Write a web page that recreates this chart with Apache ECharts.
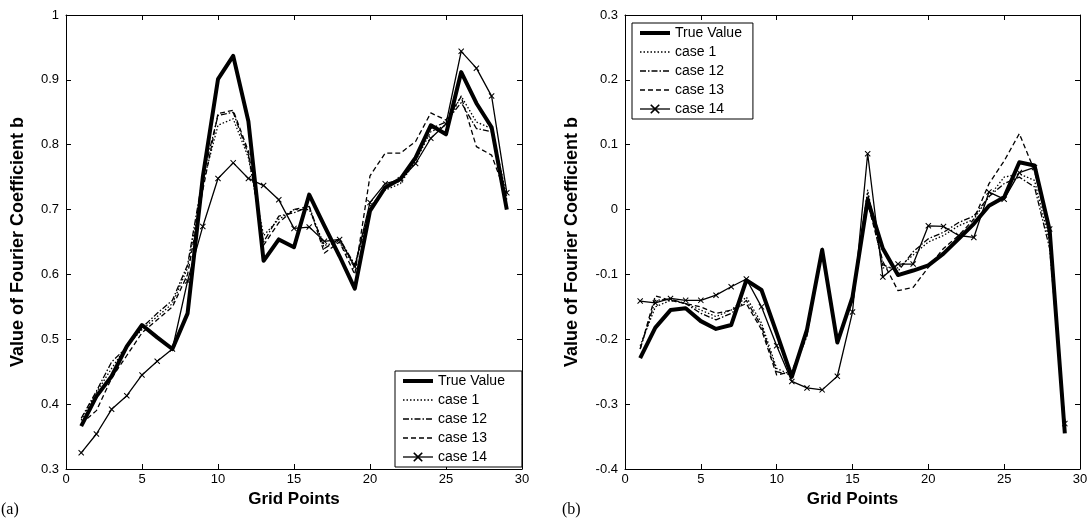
<!DOCTYPE html>
<html>
<head>
<meta charset="utf-8">
<script src="https://cdn.jsdelivr.net/npm/echarts@6/dist/echarts.min.js"></script>
<style>html,body{margin:0;padding:0;background:#fff;}#c{width:1092px;height:518px;}</style>
</head>
<body>
<div id="c"></div>
<script>
// ---- data ----
var gridPoints = [1,2,3,4,5,6,7,8,9,10,11,12,13,14,15,16,17,18,19,20,21,22,23,24,25,26,27,28,29];
var seriesNames = ['True Value','case 1','case 12','case 13','case 14'];

// (a)
var trueA   = [0.366,0.412,0.443,0.489,0.522,0.503,0.485,0.540,0.750,0.901,0.937,0.836,0.621,0.654,0.642,0.723,0.675,0.628,0.578,0.698,0.734,0.747,0.780,0.830,0.816,0.912,0.864,0.827,0.700];
var case1A  = [0.375,0.418,0.455,0.490,0.515,0.535,0.555,0.610,0.740,0.830,0.840,0.780,0.660,0.685,0.700,0.700,0.645,0.650,0.610,0.705,0.730,0.740,0.775,0.820,0.830,0.875,0.835,0.825,0.720];
var case12A = [0.378,0.420,0.465,0.488,0.518,0.540,0.560,0.615,0.750,0.845,0.850,0.785,0.650,0.690,0.695,0.705,0.640,0.655,0.615,0.700,0.735,0.745,0.780,0.825,0.835,0.865,0.825,0.820,0.715];
var case13A = [0.370,0.390,0.440,0.475,0.510,0.530,0.550,0.600,0.730,0.848,0.853,0.790,0.645,0.680,0.700,0.705,0.633,0.650,0.600,0.752,0.787,0.787,0.805,0.849,0.838,0.874,0.797,0.784,0.720];
var case14A = [0.325,0.354,0.392,0.413,0.445,0.466,0.485,0.590,0.674,0.748,0.772,0.748,0.737,0.715,0.671,0.673,0.651,0.654,0.612,0.711,0.740,0.746,0.771,0.810,0.832,0.944,0.918,0.875,0.726];

// (b)
var trueB   = [-0.229,-0.182,-0.155,-0.152,-0.172,-0.184,-0.178,-0.109,-0.124,-0.190,-0.258,-0.185,-0.062,-0.205,-0.135,0.015,-0.060,-0.101,-0.094,-0.086,-0.068,-0.045,-0.022,0.006,0.019,0.073,0.068,-0.032,-0.345];
var case1B  = [-0.210,-0.150,-0.140,-0.145,-0.155,-0.165,-0.155,-0.135,-0.175,-0.245,-0.255,-0.190,-0.065,-0.200,-0.140,0.030,-0.090,-0.090,-0.070,-0.050,-0.040,-0.025,-0.015,0.020,0.050,0.055,0.045,-0.050,-0.330];
var case12B = [-0.215,-0.140,-0.138,-0.145,-0.160,-0.170,-0.160,-0.140,-0.180,-0.250,-0.255,-0.195,-0.060,-0.200,-0.140,0.025,-0.085,-0.095,-0.065,-0.045,-0.035,-0.020,-0.010,0.020,0.040,0.050,0.035,-0.060,-0.330];
var case13B = [-0.215,-0.133,-0.140,-0.145,-0.150,-0.160,-0.155,-0.145,-0.185,-0.255,-0.250,-0.190,-0.060,-0.200,-0.140,0.010,-0.080,-0.125,-0.120,-0.089,-0.060,-0.040,-0.015,0.040,0.075,0.117,0.060,-0.040,-0.330];
var case14B = [-0.141,-0.144,-0.137,-0.140,-0.140,-0.132,-0.119,-0.107,-0.150,-0.210,-0.265,-0.275,-0.278,-0.257,-0.158,0.086,-0.104,-0.084,-0.084,-0.025,-0.026,-0.040,-0.043,0.027,0.016,0.057,0.065,-0.030,-0.330];

var xTicks = {min: 0, max: 30, interval: 5};
var yTicksA = {min: 0.3, max: 1, interval: 0.1};
var yTicksB = {min: -0.4, max: 0.3, interval: 0.1};

// ---- chart ----
var FONT = '"Liberation Sans", Arial, sans-serif';
function pairs(ys){ return gridPoints.map(function(x,i){ return [x, ys[i]]; }); }
var xMark = 'path://M0,1.2L1.2,0L5,3.8L8.8,0L10,1.2L6.2,5L10,8.8L8.8,10L5,6.2L1.2,10L0,8.8L3.8,5Z';
var styles = [
  {width:4,   type:'solid',        symbol:'none'},
  {width:1.3, type:[1.5,2],        symbol:'none'},
  {width:1.3, type:[6,2,1.5,2],    symbol:'none'},
  {width:1.3, type:[5,3],          symbol:'none'},
  {width:1.3, type:'solid',        symbol:xMark}
];
function mkSeries(arrs, xi, yi){
  return arrs.map(function(a, k){
    var s = styles[k];
    return {
      type:'line', name: seriesNames[k], xAxisIndex: xi, yAxisIndex: yi,
      data: pairs(a), symbol: s.symbol, symbolSize: 6, showAllSymbol: true,
      lineStyle: {color:'#000', width: s.width, type: s.type, join:'round'},
      itemStyle: {color:'#000'}, z: 10 - k, animation:false
    };
  });
}
function xAx(gi, pos, show){
  return {type:'value', gridIndex: gi, position: pos, min: xTicks.min, max: xTicks.max, interval: xTicks.interval,
    axisLine:{show:true, onZero:false, lineStyle:{color:'#000', width:1}},
    axisTick:{show:true, inside:true, length:5, lineStyle:{color:'#000'}},
    axisLabel:{show: show, color:'#000', fontFamily: FONT, fontSize:13, margin:4},
    splitLine:{show:false},
    name: show ? 'Grid Points' : '', nameLocation:'middle', nameGap: 21,
    nameTextStyle:{color:'#000', fontFamily: FONT, fontSize:17, fontWeight:'bold'}};
}
function yAx(gi, pos, show, t, gap){
  return {type:'value', gridIndex: gi, position: pos, min: t.min, max: t.max, interval: t.interval,
    axisLine:{show:true, onZero:false, lineStyle:{color:'#000', width:1}},
    axisTick:{show:true, inside:true, length:5, lineStyle:{color:'#000'}},
    axisLabel:{show: show, color:'#000', fontFamily: FONT, fontSize:13, margin:7,
      formatter: function(v){ return String(Math.round(v*10)/10); }},
    splitLine:{show:false},
    name: show ? 'Value of Fourier Coefficient b' : '', nameLocation:'middle', nameGap: gap || 38,
    nameTextStyle:{color:'#000', fontFamily: FONT, fontSize:18, fontWeight:'bold'}};
}
function legendData(){
  return seriesNames.map(function(n, k){
    var s = styles[k];
    var item = {name:n, lineStyle:{width: s.width, type: s.type, color:'#000'}};
    if (k < 4) item.itemStyle = {opacity:0};
    return item;
  });
}
function legend(left, top, padRight){
  return {show:true, orient:'vertical', left: left, top: top, data: legendData(),
    itemWidth: 30, itemHeight: 12, itemGap: 5,
    padding:[3,padRight,3,6], borderColor:'#000', borderWidth:1, backgroundColor:'#fff',
    textStyle:{color:'#000', fontFamily: FONT, fontSize:14}, selectedMode:false};
}

var chart = echarts.init(document.getElementById('c'), null, {renderer:'canvas'});
chart.setOption({
  animation:false,
  backgroundColor:'#fff',
  grid:[
    {left:66, top:15, width:456, height:454, show:false},
    {left:625, top:15, width:455, height:454, show:false}
  ],
  xAxis:[xAx(0,'bottom',true), xAx(0,'top',false), xAx(1,'bottom',true), xAx(1,'top',false)],
  yAxis:[yAx(0,'left',true,yTicksA,39), yAx(0,'right',false,yTicksA), yAx(1,'left',true,yTicksB,44), yAx(1,'right',false,yTicksB)],
  legend:[legend(395, 371, 17), legend(632, 23, 11)],
  series: mkSeries([trueA, case1A, case12A, case13A, case14A], 0, 0)
    .concat(mkSeries([trueB, case1B, case12B, case13B, case14B], 2, 2)),
  graphic:[
    {type:'text', left:1, top:502, style:{text:'(a)', font:'16px "Liberation Serif", serif', fill:'#000'}},
    {type:'text', left:562, top:502, style:{text:'(b)', font:'16px "Liberation Serif", serif', fill:'#000'}}
  ]
});
</script>
</body>
</html>
